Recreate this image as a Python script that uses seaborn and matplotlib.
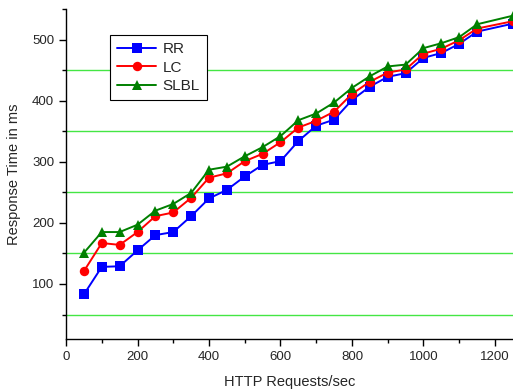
import matplotlib
matplotlib.use("Agg")
import matplotlib.pyplot as plt
from matplotlib.ticker import MultipleLocator
import numpy as np
import pandas as pd
import seaborn as sns

# HTTP request rates (req/s) and response times (ms)
requests = [50, 100, 150, 200, 250, 300, 350, 400, 450, 500, 550, 600,
            650, 700, 750, 800, 850, 900, 950, 1000, 1050, 1100, 1150, 1250]
rr = [83, 128, 129, 155, 180, 185, 211, 240, 254, 276, 295, 301,
      334, 359, 369, 401, 423, 439, 445, 470, 478, 493, 513, 526]
lc = [121, 167, 164, 185, 211, 217, 241, 274, 281, 301, 313, 332,
      356, 367, 382, 411, 431, 446, 451, 477, 485, 499, 518, 530]
slbl = [151, 185, 185, 197, 220, 231, 249, 287, 292, 309, 324, 342,
        368, 379, 397, 421, 440, 456, 459, 486, 494, 504, 525, 539]

series_names = ["RR", "LC", "SLBL"]
colors = {"RR": "#0000ff", "LC": "#ff0000", "SLBL": "#008000"}
markers = {"RR": "s", "LC": "o", "SLBL": "^"}

df = pd.concat([
    pd.DataFrame({"req": requests, "resp": vals, "alg": name})
    for name, vals in zip(series_names, [rr, lc, slbl])
], ignore_index=True)

sns.set_style("white")
plt.rcParams["font.family"] = ["Liberation Sans", "DejaVu Sans"]

fig = plt.figure(figsize=(5.13, 3.91), dpi=100)
ax = fig.add_axes([0.1287, 0.133, 0.871, 0.844])

# green lines at the minor y positions
for yv in [50, 150, 250, 350, 450]:
    ax.axhline(yv, color="#44e644", linewidth=1.0, zorder=0)

sns.lineplot(data=df, x="req", y="resp", hue="alg", style="alg",
             hue_order=series_names, style_order=series_names,
             palette=colors, markers=markers, dashes=False,
             markersize=6.8, markeredgewidth=0, linewidth=1.4, ax=ax)

ax.set_xlim(0, 1250)
ax.set_ylim(10, 550)
ax.xaxis.set_major_locator(MultipleLocator(200))
ax.xaxis.set_minor_locator(MultipleLocator(100))
ax.yaxis.set_major_locator(MultipleLocator(100))
ax.yaxis.set_minor_locator(MultipleLocator(50))
ax.set_yticks([100, 200, 300, 400, 500])

for side in ["top", "right"]:
    ax.spines[side].set_visible(False)
for side in ["left", "bottom"]:
    ax.spines[side].set_color("black")
    ax.spines[side].set_linewidth(1.0)

ax.tick_params(which="major", direction="out", length=5, width=1,
               color="black", labelsize=9.5, bottom=True, left=True)
ax.tick_params(which="minor", direction="out", length=3, width=1,
               color="black", bottom=True, left=True)

ax.set_xlabel("HTTP Requests/sec", fontsize=10.5, labelpad=9)
ax.set_ylabel("Response Time in ms", fontsize=10.5, labelpad=8)

leg = ax.legend(loc="upper left", bbox_to_anchor=(0.098, 0.921),
                borderaxespad=0, fontsize=11, frameon=True, fancybox=False,
                edgecolor="black", framealpha=1, borderpad=0.45,
                handlelength=2.6, handletextpad=0.4, labelspacing=0.3)
leg.get_frame().set_linewidth(0.8)

plt.savefig("out.png", dpi=100)
plt.close()
